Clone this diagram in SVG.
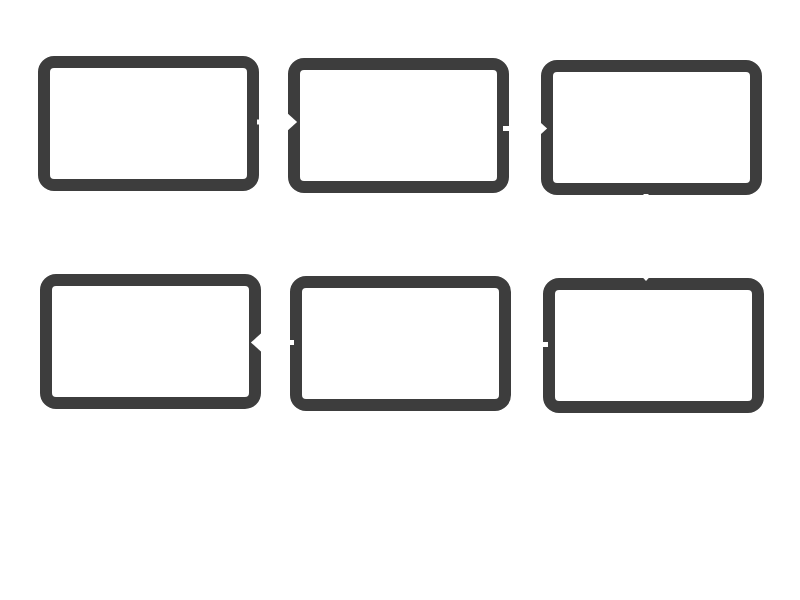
<svg xmlns="http://www.w3.org/2000/svg" width="800" height="600" viewBox="0 0 800 600">
  <style>
    .box { fill: #ffffff; stroke: #3d3d3d; stroke-width: 12; }
    .conn { stroke: #ffffff; stroke-width: 5; fill: none; }
  </style>
  <defs>
    <marker id="arrow" markerUnits="userSpaceOnUse" markerWidth="12" markerHeight="20" viewBox="0 0 10 18" refX="0" refY="9" orient="auto">
      <path d="M0,0 L10,9 L0,18 Z" fill="#ffffff"/>
    </marker>
  </defs>
  <rect width="800" height="600" fill="#ffffff"/>
  <g id="node1"><rect class="box" x="44" y="62" width="209" height="123" rx="10"/></g>
  <g id="node2"><rect class="box" x="294" y="64" width="209" height="123" rx="10"/></g>
  <g id="node3"><rect class="box" x="547" y="66" width="209" height="123" rx="10"/></g>
  <g id="node4"><rect class="box" x="46" y="280" width="209" height="123" rx="10"/></g>
  <g id="node5"><rect class="box" x="296" y="282" width="209" height="123" rx="10"/></g>
  <g id="node6"><rect class="box" x="549" y="284" width="209" height="123" rx="10"/></g>
  <g id="connectors">
    <line class="conn" x1="257" y1="122" x2="286" y2="122" marker-end="url(#arrow)"/>
    <line class="conn" x1="503" y1="128.5" x2="536" y2="128.5" marker-end="url(#arrow)"/>
    <line class="conn" x1="646" y1="194" x2="646" y2="270" marker-end="url(#arrow)"/>
    <line class="conn" x1="548" y1="344.5" x2="523" y2="344.5" marker-end="url(#arrow)"/>
    <line class="conn" x1="294" y1="342.5" x2="262" y2="342.5" marker-end="url(#arrow)"/>
  </g>
</svg>
